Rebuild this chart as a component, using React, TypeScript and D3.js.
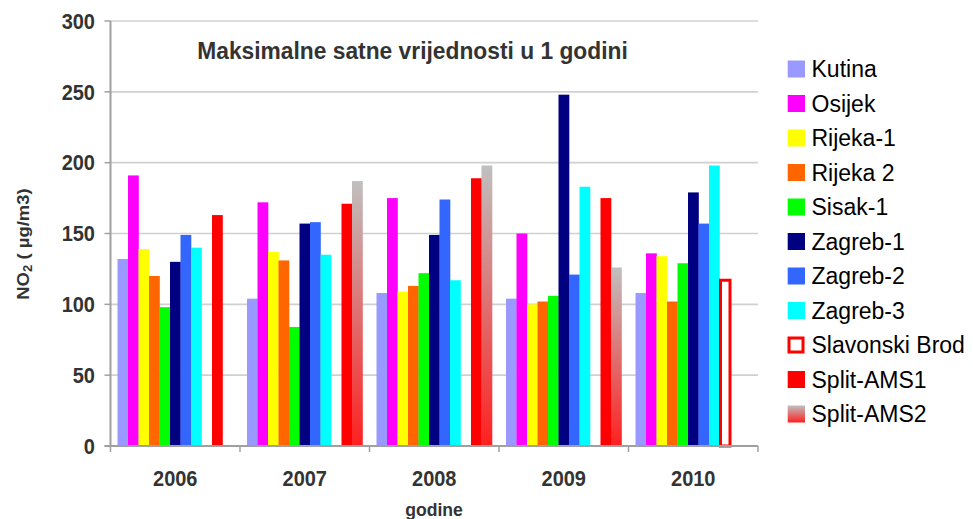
import React from "react";
import * as d3 from "d3";

const years = ["2006", "2007", "2008", "2009", "2010"];
const seriesNames = ["Kutina", "Osijek", "Rijeka-1", "Rijeka 2", "Sisak-1", "Zagreb-1", "Zagreb-2", "Zagreb-3", "Slavonski Brod", "Split-AMS1", "Split-AMS2"];
const kutina = [132, 104, 108, 104, 108];
const osijek = [191, 172, 175, 150, 136];
const rijeka1 = [139, 137, 109, 100, 134];
const rijeka2 = [120, 131, 113, 102, 102];
const sisak1 = [98, 84, 122, 106, 129];
const zagreb1 = [130, 157, 149, 248, 179];
const zagreb2 = [149, 158, 174, 121, 157];
const zagreb3 = [140, 135, 117, 183, 198];
const slavonskiBrod = [null, null, null, null, 117];
const splitAms1 = [163, 171, 189, 175, null];
const splitAms2 = [null, 187, 198, 126, null];
const yTicks = [0, 50, 100, 150, 200, 250, 300];

const seriesValues = [kutina, osijek, rijeka1, rijeka2, sisak1, zagreb1, zagreb2, zagreb3, slavonskiBrod, splitAms1, splitAms2];
const colors = ["#9999FF", "#FF00FF", "#FFFF00", "#FF6600", "#00FF00", "#000080", "#3366FF", "#00FFFF", "#FFFFFF", "#FF0000", "url(#gradAms2)"];

const W = 973, H = 519;
const left = 110.5, right = 758, top = 21, bottom = 446;
const SY = 1.09;

export default function App() {
  const x0 = d3.scaleBand<string>().domain(years).range([left, right]).paddingInner(0).paddingOuter(0);
  const x1 = d3.scaleBand<string>().domain(seriesNames).range([0, x0.bandwidth()]).paddingInner(0).paddingOuter(0.667);
  const y = d3.scaleLinear().domain([0, 300]).range([bottom, top]);
  const legendY = d3.scalePoint<string>().domain(seriesNames).range([69, 414]);

  const stretchText = (tx: number, ty: number, content: React.ReactNode, props: any) => (
    <text transform={`translate(${tx},${ty}) scale(1,${SY})`} {...props}>{content}</text>
  );

  return (
    <svg width={W} height={H} style={{ position: "absolute", left: 0, top: 0, background: "#fff" }} fontFamily="Arial, 'Liberation Sans', sans-serif">
      <defs>
        <linearGradient id="gradAms2" x1="0" y1="0" x2="0" y2="1">
          <stop offset="0" stopColor="#C0C0C0" />
          <stop offset="1" stopColor="#FF2020" />
        </linearGradient>
      </defs>
      <rect x={0} y={0} width={W} height={H} fill="#fff" />
      {yTicks.filter(t => t > 0).map(t => (
        <line key={"g" + t} x1={left} x2={right} y1={y(t)} y2={y(t)} stroke="#D0D0D0" strokeWidth={1.6} />
      ))}
      {seriesNames.map((s, si) => (
        <g key={s}>
          {years.map((yr, yi) => {
            const v = seriesValues[si][yi];
            if (v == null) return null;
            const bx = (x0(yr) as number) + (x1(s) as number);
            const bw = x1.bandwidth();
            if (s === "Slavonski Brod") {
              return <rect key={yr} x={bx + 1} y={y(v)} width={bw - 1} height={y(0) - y(v)} fill="#FFFFFF" stroke="#FF0000" strokeWidth={3} />;
            }
            return <rect key={yr} x={bx} y={y(v)} width={bw + 0.3} height={y(0) - y(v)} fill={colors[si]} />;
          })}
        </g>
      ))}
      <line x1={left} x2={left} y1={top} y2={bottom} stroke="#A0A0A0" strokeWidth={2} />
      <line x1={left - 6} x2={right} y1={bottom} y2={bottom} stroke="#A0A0A0" strokeWidth={2} />
      {yTicks.map(t => (
        <line key={"yt" + t} x1={left - 6} x2={left} y1={y(t)} y2={y(t)} stroke="#A0A0A0" strokeWidth={1.5} />
      ))}
      {yTicks.map(t => stretchText(95, y(t) + 7.8, String(t), { key: "yl" + t, textAnchor: "end", fontSize: 20, fontWeight: "bold", fill: "#333333" }))}
      {[...years.map(yr => x0(yr) as number), right].map((xv, i) => (
        <line key={"xt" + i} x1={xv} x2={xv} y1={bottom} y2={bottom + 6} stroke="#A0A0A0" strokeWidth={1.5} />
      ))}
      {years.map(yr => stretchText((x0(yr) as number) + x0.bandwidth() / 2, 486, yr, { key: "xl" + yr, textAnchor: "middle", fontSize: 20, fontWeight: "bold", fill: "#333333" }))}
      {stretchText(434, 516, "godine", { textAnchor: "middle", fontSize: 17.6, fontWeight: "bold", fill: "#333333" })}
      {stretchText(412.5, 59, "Maksimalne satne vrijednosti u 1 godini", { textAnchor: "middle", fontSize: 22.8, fontWeight: "bold", fill: "#333333" })}
      <text transform={`translate(29,244) rotate(-90) scale(${SY},1)`} textAnchor="middle" fontSize={17} fontWeight="bold" fill="#333333">
        NO<tspan fontSize={12} dy={3}>2</tspan><tspan dy={-3}> ( µg/m3)</tspan>
      </text>
      {seriesNames.map((s, si) => {
        const ly = legendY(s) as number;
        return (
          <g key={"lg" + s}>
            {s === "Slavonski Brod" ? (
              <rect x={789} y={ly - 7} width={14} height={14} fill="#FFFFFF" stroke="#FF0000" strokeWidth={3} />
            ) : (
              <rect x={787.7} y={ly - 8.5} width={17.3} height={17} fill={colors[si]} />
            )}
            <text x={811.5} y={ly + 8} fontSize={23} fill="#000000">{s}</text>
          </g>
        );
      })}
    </svg>
  );
}
